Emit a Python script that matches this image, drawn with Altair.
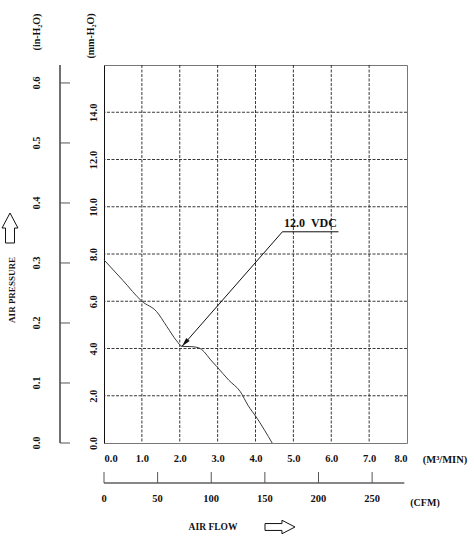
import math
import altair as alt
import pandas as pd

# Fan P-Q curve at 12.0 VDC: air flow (m³/min) against static pressure (mm-H2O)
flow_m3 = [0.0, 0.5, 1.0, 1.39, 1.66, 1.92, 2.06, 2.3, 2.5, 2.65, 2.8, 2.98, 3.3, 3.6, 3.8, 4.04, 4.44]
pressure_mm = [7.75, 6.88, 6.0, 5.56, 4.93, 4.32, 4.09, 4.08, 4.03, 3.85, 3.55, 3.23, 2.65, 2.17, 1.6, 1.05, 0.0]

flow_ticks = [0, 1, 2, 3, 4, 5, 6, 7, 8]
mm_ticks = [0, 2, 4, 6, 8, 10, 12, 14]
grid_flow = [1, 2, 3, 4, 5, 6, 7]
grid_mm = [2, 4, 6, 8, 10, 12, 14]
inh2o_ticks = [0.0, 0.1, 0.2, 0.3, 0.4, 0.5, 0.6]
cfm_ticks = [0, 50, 100, 150, 200, 250]
cfm_end = 280

MM_PER_IN = 25.4
CFM_PER_M3MIN = 35.3147

note_text = "12.0\u00a0\u00a0VDC"
note_elbow = (4.71, 8.94)
note_tip = (2.06, 4.09)
note_end_x = 6.19

W, H = 303, 378
X_MAX, Y_MAX = 8, 16
FONT = "Liberation Serif"
INK = "#111111"
NUM_SIZE = 10.5

x_scale = alt.Scale(domain=[0, X_MAX], nice=False, zero=True)
y_scale = alt.Scale(domain=[0, Y_MAX], nice=False, zero=True)

x_axis = alt.Axis(
    values=flow_ticks, format=".1f", title=None, grid=False, ticks=False,
    tickSize=0, domain=False, labelPadding=10, labelFont=FONT,
    labelFontWeight="bold", labelFontSize=NUM_SIZE, labelColor=INK,
)
y_axis = alt.Axis(
    values=mm_ticks, format=".1f", title=None, grid=False, ticks=False,
    tickSize=0, domain=True, domainColor=INK, domainWidth=1, labelAngle=270,
    labelAlign="center", labelBaseline="bottom", labelPadding=6,
    labelFont=FONT, labelFontWeight="bold", labelFontSize=NUM_SIZE, labelColor=INK,
)


def X(field="flow"):
    return alt.X(f"{field}:Q", scale=x_scale, axis=x_axis)


def Y(field="mm"):
    return alt.Y(f"{field}:Q", scale=y_scale, axis=y_axis)


one_row = pd.DataFrame({"k": [0]})


def label(text, x, y, angle=0, size=10, align="center", baseline="middle"):
    return alt.Chart(one_row).mark_text(
        text=text, font=FONT, fontWeight="bold", fontSize=size, angle=angle,
        align=align, baseline=baseline, color=INK,
    ).encode(x=alt.value(x), y=alt.value(y))


def block_arrow(path, x, y, size):
    return alt.Chart(one_row).mark_point(
        shape=path, size=size, filled=True, fill="white", stroke=INK,
        strokeWidth=1, opacity=1,
    ).encode(x=alt.value(x), y=alt.value(y))


curve_df = pd.DataFrame({"flow": flow_m3, "mm": pressure_mm})
curve = alt.Chart(curve_df).mark_line(
    color="#3a3a3a", strokeWidth=1, interpolate="monotone"
).encode(x=X(), y=Y())

grid_style = dict(color="#222222", strokeWidth=0.9, strokeDash=[3, 1.5])
vgrid = alt.Chart(pd.DataFrame({"flow": grid_flow})).mark_rule(**grid_style).encode(x=X())
hgrid = alt.Chart(pd.DataFrame({"mm": grid_mm})).mark_rule(**grid_style).encode(y=Y())

# leader line, underline and arrowhead of the voltage note
leader_df = pd.DataFrame({
    "flow": [note_elbow[0]], "mm": [note_elbow[1]],
    "flow2": [note_tip[0]], "mm2": [note_tip[1]],
})
leader = alt.Chart(leader_df).mark_rule(color=INK, strokeWidth=1).encode(
    x=X(), y=Y(), x2="flow2:Q", y2="mm2:Q"
)
under_df = pd.DataFrame({"flow": [note_elbow[0]], "flow2": [note_end_x], "mm": [note_elbow[1]]})
underline = alt.Chart(under_df).mark_rule(color=INK, strokeWidth=1).encode(
    x=X(), x2="flow2:Q", y=Y()
)
note_df = pd.DataFrame({"flow": [(note_elbow[0] + note_end_x) / 2], "mm": [note_elbow[1]]})
note = alt.Chart(note_df).mark_text(
    text=note_text, font=FONT, fontWeight="bold", fontSize=12,
    baseline="bottom", dy=-2, color=INK,
).encode(x=X(), y=Y())

dx_px = (note_tip[0] - note_elbow[0]) * W / X_MAX
dy_px = -(note_tip[1] - note_elbow[1]) * H / Y_MAX
head_angle = (math.degrees(math.atan2(dx_px, -dy_px)) + 360) % 360
head_df = pd.DataFrame({"flow": [note_tip[0]], "mm": [note_tip[1]]})
head = alt.Chart(head_df).mark_point(
    shape="M0,0L-0.25,1L0.25,1Z", size=324, angle=head_angle, filled=True,
    color=INK, opacity=1,
).encode(x=X(), y=Y())

# secondary pressure scale in inches of water, left of the main axis
in_df = pd.DataFrame({"inch": inh2o_ticks})
in_base = alt.Chart(in_df).transform_calculate(mm=f"datum.inch * {MM_PER_IN}")
in_axis_line = alt.Chart(one_row).mark_rule(color=INK, strokeWidth=1.2).encode(
    x=alt.value(-44), y=alt.value(0), y2=alt.value(H)
)
in_tick_marks = in_base.mark_rule(color="#555555", strokeWidth=1).encode(
    y=Y(), x=alt.value(-44), x2=alt.value(-34)
)
in_labels = in_base.mark_text(
    font=FONT, fontWeight="bold", fontSize=NUM_SIZE, angle=270, color=INK
).encode(y=Y(), x=alt.value(-67), text=alt.Text("inch:Q", format=".1f"))

# secondary flow scale in CFM, below the main axis
cfm_df = pd.DataFrame({"cfm": cfm_ticks})
cfm_base = alt.Chart(cfm_df).transform_calculate(flow=f"datum.cfm / {CFM_PER_M3MIN}")
cfm_line_df = pd.DataFrame({"flow": [0.0], "flow2": [cfm_end / CFM_PER_M3MIN]})
cfm_axis_line = alt.Chart(cfm_line_df).mark_rule(color=INK, strokeWidth=1.2).encode(
    x=X(), x2="flow2:Q", y=alt.value(418)
)
cfm_tick_marks = cfm_base.mark_rule(color="#555555", strokeWidth=1).encode(
    x=X(), y=alt.value(407), y2=alt.value(418)
)
cfm_labels = cfm_base.mark_text(
    font=FONT, fontWeight="bold", fontSize=NUM_SIZE, color=INK
).encode(x=X(), y=alt.value(434), text=alt.Text("cfm:Q", format="d"))

up_arrow = "M0,-1L0.53,0L0.3,0L0.3,1L-0.3,1L-0.3,0L-0.53,0Z"
right_arrow = "M1,0L0.13,-0.45L0.13,-0.23L-1,-0.23L-1,0.23L0.13,0.23L0.13,0.45Z"

chart = alt.layer(
    vgrid, hgrid, curve, leader, underline, head, note,
    in_axis_line, in_tick_marks, in_labels,
    cfm_axis_line, cfm_tick_marks, cfm_labels,
    label("(in-H₂O)", -67, -33, angle=270),
    label("(mm-H₂O)", -13, -29, angle=270),
    label("AIR PRESSURE", -92, 225, angle=270, size=9),
    block_arrow(up_arrow, -94, 163, 900),
    label("(M³/MIN)", 341, 395, size=10.5),
    label("(CFM)", 321, 438),
    label("AIR FLOW", 109, 462, size=9.5),
    block_arrow(right_arrow, 176, 462, 900),
).properties(
    width=W, height=H,
    autosize=alt.AutoSizeParams(type="none"),
    padding={"left": 104, "top": 65, "right": 67, "bottom": 99},
    background="white",
).configure_view(stroke="#777777", strokeWidth=1)

chart.save("out.html", embed_options={"renderer": "svg", "actions": False})
